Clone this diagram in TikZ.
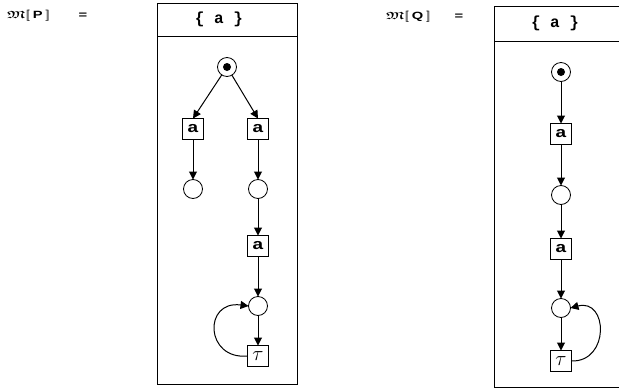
\documentclass[tikz,border=0pt]{standalone}
\usepackage{amsmath,amssymb}
\usepackage{fontspec}
\newfontfamily\monofont{Liberation Mono}
\newfontfamily\labelfont{Liberation Sans}
\usetikzlibrary{arrows.meta}
\newcommand{\semopen}{[\kern-0.22em[}
\newcommand{\semclose}{]\kern-0.22em]}
\begin{document}
\begin{tikzpicture}[x=1pt,y=-1pt,
  every node/.style={inner sep=0pt, outer sep=0pt},
  frame/.style={draw, line width=1pt},
  place/.style={draw, circle, minimum size=19pt, line width=0.8pt},
  trans/.style={draw, rectangle, minimum width=21pt, minimum height=21pt, line width=1pt},
  letter/.style={font=\monofont\bfseries\fontsize{15}{15}\selectfont, xscale=1.3, transform shape},
  token/.style={fill, circle, minimum size=8pt},
  arc/.style={-{Triangle[length=8pt,width=8pt]}, line width=1pt},
  title/.style={font=\fontsize{10.5}{10.5}\selectfont, anchor=west, xscale=1.4, transform shape},
  eqsign/.style={font=\labelfont\bfseries\fontsize{10.5}{10.5}\selectfont, xscale=1.4, transform shape},
  header/.style={font=\monofont\bfseries\fontsize{16}{16}\selectfont}
]
\useasboundingbox (0,0) rectangle (619,389);
\begin{scope}
\clip (0,0) rectangle (619,389);

% ---- left net ----
\node[title] (lblP) at (7,16) {$\boldsymbol{\mathfrak{M}}\semopen$\,{\labelfont\bfseries P}\,$\semclose$};
\node[eqsign] (eqP) at (83,16) {=};
\draw[frame] (157,3) rectangle (297,384);
\draw[frame] (157,36) -- (297,36);
\node[header] (hP) at (219,19) {\{ a \}};

\node[place] (p0) at (227,67) {};
\node[token] at (p0) {};
\node[trans] (ta1) at (193,129) {};
\node[letter] at (ta1) {a};
\node[trans] (ta2) at (258,129) {};
\node[letter] at (ta2) {a};
\node[place] (p1) at (193,189) {};
\node[place] (p2) at (258,189) {};
\node[trans] (ta3) at (258,246) {};
\node[letter] at (ta3) {a};
\node[place] (p3) at (258,306) {};
\node[trans, font=\fontsize{22}{22}\selectfont] (tt) at (258,356) {$\tau$};

\draw[arc] (p0) -- (ta1.north);
\draw[arc] (p0) -- (ta2.north);
\draw[arc] (ta1) -- (p1);
\draw[arc] (ta2) -- (p2);
\draw[arc] (p2) -- (ta3);
\draw[arc] (ta3) -- (p3);
\draw[arc] (p3) -- (tt);
\draw[arc] (tt.west) .. controls (205,360) and (203,300) .. (p3.west);

% ---- right net ----
\node[title] (lblQ) at (386,17) {$\boldsymbol{\mathfrak{M}}\semopen$\,{\labelfont\bfseries Q}\,$\semclose$};
\node[eqsign] (eqQ) at (459,17) {=};
\draw[frame] (494,6) rectangle (640,387);
\draw[frame] (494,41) -- (640,41);
\node[header] (hQ) at (555,23) {\{ a \}};

\node[place] (q0) at (561,72) {};
\node[token] at (q0) {};
\node[trans] (sa1) at (561,134) {};
\node[letter] at (sa1) {a};
\node[place] (q1) at (561,195) {};
\node[trans] (sa2) at (561,249) {};
\node[letter] at (sa2) {a};
\node[place] (q2) at (561,308) {};
\node[trans, font=\fontsize{22}{22}\selectfont] (st) at (561,361) {$\tau$};

\draw[arc] (q0) -- (sa1);
\draw[arc] (sa1) -- (q1);
\draw[arc] (q1) -- (sa2);
\draw[arc] (sa2) -- (q2);
\draw[arc] (q2) -- (st);
\draw[arc] (st.east) .. controls (610,362) and (608,298) .. (q2.east);
\end{scope}
\end{tikzpicture}
\end{document}
